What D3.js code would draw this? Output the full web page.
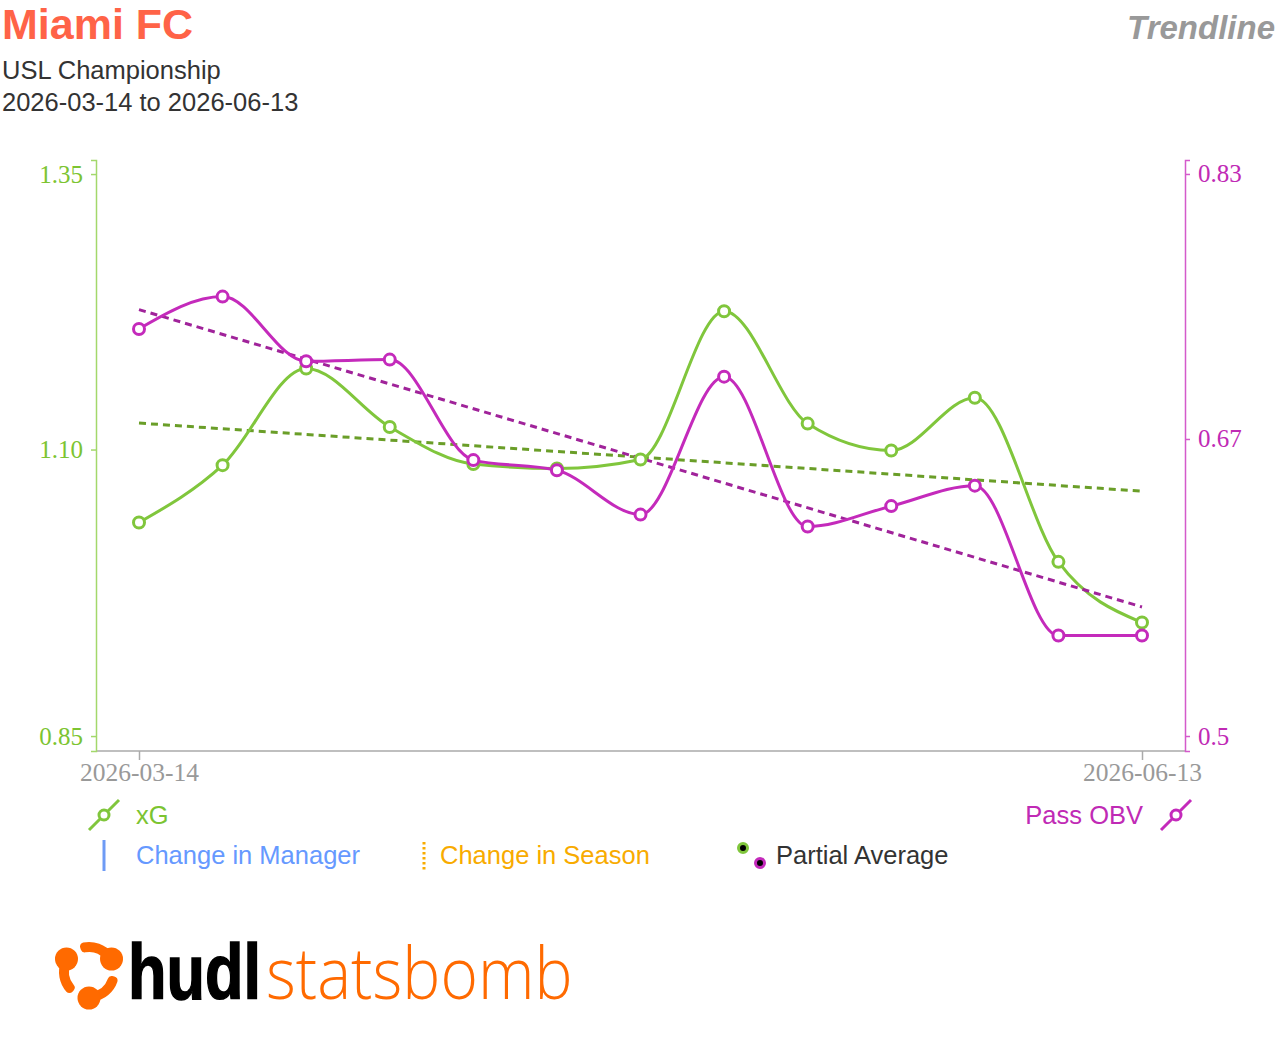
<!DOCTYPE html>
<html>
<head>
<meta charset="utf-8">
<script src="https://cdn.jsdelivr.net/npm/d3@7"></script>
<style>
  body { margin: 0; background: #fff; }
  svg { display: block; }
  .sans { font-family: "Liberation Sans", Arial, sans-serif; }
  .serif { font-family: "Liberation Serif", "Times New Roman", serif; }
</style>
</head>
<body>
<svg id="chart" width="1280" height="1040"></svg>
<script>
'use strict';

// chart data
var matchIndex = [0, 1, 2, 3, 4, 5, 6, 7, 8, 9, 10, 11, 12];
var xgValues = [1.040, 1.091, 1.177, 1.125, 1.092, 1.088, 1.096, 1.228, 1.128, 1.104, 1.151, 1.005, 0.951];
var passObvValues = [0.739, 0.758, 0.720, 0.721, 0.662, 0.656, 0.630, 0.711, 0.623, 0.635, 0.647, 0.559, 0.559];
var dateTickLabels = ['2026-03-14', '2026-06-13'];
var xgTicks = [0.85, 1.1049, 1.35];
var obvTicks = [0.5, 0.6744, 0.83];

var green = '#80c63c',
  greenTrend = '#6a9e28',
  magenta = '#c42abb',
  magentaTrend = '#a0239a',
  gray = '#999';

var svg = d3.select('#chart');

// header
svg.append('text').attr('class', 'sans')
  .attr('x', 2).attr('y', 39)
  .attr('font-size', 43).attr('font-weight', 'bold')
  .attr('fill', '#ff6347')
  .text('Miami FC');
svg.append('text').attr('class', 'sans')
  .attr('x', 2).attr('y', 79)
  .attr('font-size', 25.5).attr('fill', '#333')
  .text('USL Championship');
svg.append('text').attr('class', 'sans')
  .attr('x', 2).attr('y', 111)
  .attr('font-size', 25.5).attr('fill', '#333')
  .text('2026-03-14 to 2026-06-13');
svg.append('text').attr('class', 'sans')
  .attr('x', 1275).attr('y', 39)
  .attr('text-anchor', 'end')
  .attr('font-size', 33).attr('font-weight', 'bold').attr('font-style', 'italic')
  .attr('fill', gray)
  .text('Trendline');

// scales
var x = d3.scalePoint().domain(matchIndex).range([139, 1142]);
var yLeft = d3.scaleLinear().domain([0.8367, 1.3625]).range([751, 160]);
var yRight = d3.scaleLinear().domain([0.4912, 0.8382]).range([751, 160]);

// axes
var xAxis = svg.append('g')
  .attr('transform', 'translate(0,751)')
  .call(d3.axisBottom(x)
    .tickValues([matchIndex[0], matchIndex[matchIndex.length - 1]])
    .tickFormat(function(d, i) { return dateTickLabels[i]; })
    .tickSize(9).tickSizeOuter(0).tickPadding(3));
xAxis.select('.domain').attr('d', 'M96,0H1185').attr('stroke', '#aaa').attr('stroke-width', 1.5);
xAxis.selectAll('.tick line').attr('stroke', '#aaa').attr('stroke-width', 1.5);
xAxis.selectAll('.tick text').attr('class', 'serif')
  .attr('font-size', 25.5).attr('fill', gray);

var leftAxis = svg.append('g')
  .attr('transform', 'translate(96,0)')
  .call(d3.axisLeft(yLeft).tickValues(xgTicks).tickFormat(d3.format('.2f'))
    .tickSize(5).tickSizeOuter(5).tickPadding(8));
leftAxis.select('.domain').attr('stroke', '#a3d86b').attr('stroke-width', 1.5);
leftAxis.selectAll('.tick line').attr('stroke', '#a3d86b').attr('stroke-width', 1.5);
leftAxis.selectAll('.tick text').attr('class', 'serif')
  .attr('font-size', 25).attr('fill', '#7cc431');

var rightAxis = svg.append('g')
  .attr('transform', 'translate(1185,0)')
  .call(d3.axisRight(yRight).tickValues(obvTicks).tickFormat(d3.format('.2~f'))
    .tickSize(5).tickSizeOuter(5).tickPadding(8));
rightAxis.select('.domain').attr('stroke', '#d45acb').attr('stroke-width', 1.5);
rightAxis.selectAll('.tick line').attr('stroke', '#d45acb').attr('stroke-width', 1.5);
rightAxis.selectAll('.tick text').attr('class', 'serif')
  .attr('font-size', 25).attr('fill', '#c02ab5');

// least squares trend over the match index
function trend(values) {
  var mx = d3.mean(matchIndex), my = d3.mean(values);
  var sxy = d3.sum(matchIndex, function(d, i) { return (d - mx) * (values[i] - my); });
  var sxx = d3.sum(matchIndex, function(d) { return (d - mx) * (d - mx); });
  var b = sxy / sxx, a = my - b * mx;
  var first = matchIndex[0], last = matchIndex[matchIndex.length - 1];
  return [[first, a + b * first], [last, a + b * last]];
}

function drawSeries(values, scale, color, trendColor) {
  var pts = matchIndex.map(function(d, i) { return [d, values[i]]; });

  svg.append('path')
    .datum(trend(values))
    .attr('fill', 'none')
    .attr('stroke', trendColor)
    .attr('stroke-width', 3)
    .attr('stroke-dasharray', '7,5')
    .attr('d', d3.line()
      .x(function(d) { return x(d[0]); })
      .y(function(d) { return scale(d[1]); }));

  svg.append('path')
    .datum(pts)
    .attr('fill', 'none')
    .attr('stroke', color)
    .attr('stroke-width', 3)
    .attr('d', d3.line()
      .curve(d3.curveMonotoneX)
      .x(function(d) { return x(d[0]); })
      .y(function(d) { return scale(d[1]); }));

  return pts;
}

var xgPts = drawSeries(xgValues, yLeft, green, greenTrend);
var obvPts = drawSeries(passObvValues, yRight, magenta, magentaTrend);

function drawPoints(pts, scale, color) {
  svg.append('g').selectAll('circle')
    .data(pts)
    .enter()
    .append('circle')
    .attr('cx', function(d) { return x(d[0]); })
    .attr('cy', function(d) { return scale(d[1]); })
    .attr('r', 5.5)
    .attr('fill', '#fff')
    .attr('stroke', color)
    .attr('stroke-width', 3);
}

drawPoints(xgPts, yLeft, green);
drawPoints(obvPts, yRight, magenta);

// legend
var legend = svg.append('g').attr('class', 'sans').attr('font-size', 25.5);

function seriesIcon(cx, cy, color) {
  legend.append('line')
    .attr('x1', cx - 15).attr('y1', cy + 15)
    .attr('x2', cx + 15).attr('y2', cy - 15)
    .attr('stroke', color).attr('stroke-width', 3);
  legend.append('circle')
    .attr('cx', cx).attr('cy', cy).attr('r', 5)
    .attr('fill', '#fff').attr('stroke', color).attr('stroke-width', 3);
}

seriesIcon(104, 815, green);
legend.append('text').attr('x', 136).attr('y', 824).attr('fill', '#7cc431').text('xG');

seriesIcon(1176, 815, magenta);
legend.append('text').attr('x', 1143).attr('y', 824)
  .attr('text-anchor', 'end').attr('fill', '#c02ab5').text('Pass OBV');

legend.append('line')
  .attr('x1', 104).attr('y1', 840).attr('x2', 104).attr('y2', 871)
  .attr('stroke', '#6e9bf5').attr('stroke-width', 3);
legend.append('text').attr('x', 136).attr('y', 864).attr('fill', '#6699ff').text('Change in Manager');

legend.append('line')
  .attr('x1', 424).attr('y1', 842).attr('x2', 424).attr('y2', 870)
  .attr('stroke', '#f8ab00').attr('stroke-width', 3)
  .attr('stroke-dasharray', '2.5,2.5');
legend.append('text').attr('x', 440).attr('y', 864).attr('fill', '#f8ab00').text('Change in Season');

legend.append('circle').attr('cx', 743).attr('cy', 848).attr('r', 4.5)
  .attr('fill', '#000').attr('stroke', green).attr('stroke-width', 3);
legend.append('circle').attr('cx', 760).attr('cy', 863).attr('r', 4.5)
  .attr('fill', '#000').attr('stroke', magenta).attr('stroke-width', 3);
legend.append('text').attr('x', 776).attr('y', 864).attr('fill', '#333').text('Partial Average');

// logo: three comets round a ring, then the word mark
var logo = svg.append('g').attr('transform', 'translate(89,972)');
var orange = '#ff6a00';
var tail = d3.arc().innerRadius(20).outerRadius(30).cornerRadius(4);
[-60, 60, 180].forEach(function(a) {
  var rad = a * Math.PI / 180;
  logo.append('path')
    .attr('d', tail({ startAngle: rad - 80 * Math.PI / 180, endAngle: rad }))
    .attr('fill', orange);
  logo.append('circle')
    .attr('cx', 26 * Math.sin(rad))
    .attr('cy', -26 * Math.cos(rad))
    .attr('r', 11.5)
    .attr('fill', orange);
});
// word mark: narrow glyphs stretched upright rather than squeezed with textLength
svg.append('text')
  .attr('transform', 'translate(128,999) scale(1,1.24)')
  .attr('font-family', '"Liberation Sans", Arial, sans-serif')
  .attr('font-weight', 'bold')
  .attr('font-size', 63)
  .attr('fill', '#000')
  .attr('stroke', '#000').attr('stroke-width', 1.2)
  .text('hudl');
svg.append('text')
  .attr('transform', 'translate(266,999) scale(1,1.12)')
  .attr('font-family', '"Open Sans", Lato, sans-serif')
  .attr('font-weight', 300)
  .attr('font-size', 64)
  .attr('fill', orange)
  .text('statsbomb');
</script>
</body>
</html>
